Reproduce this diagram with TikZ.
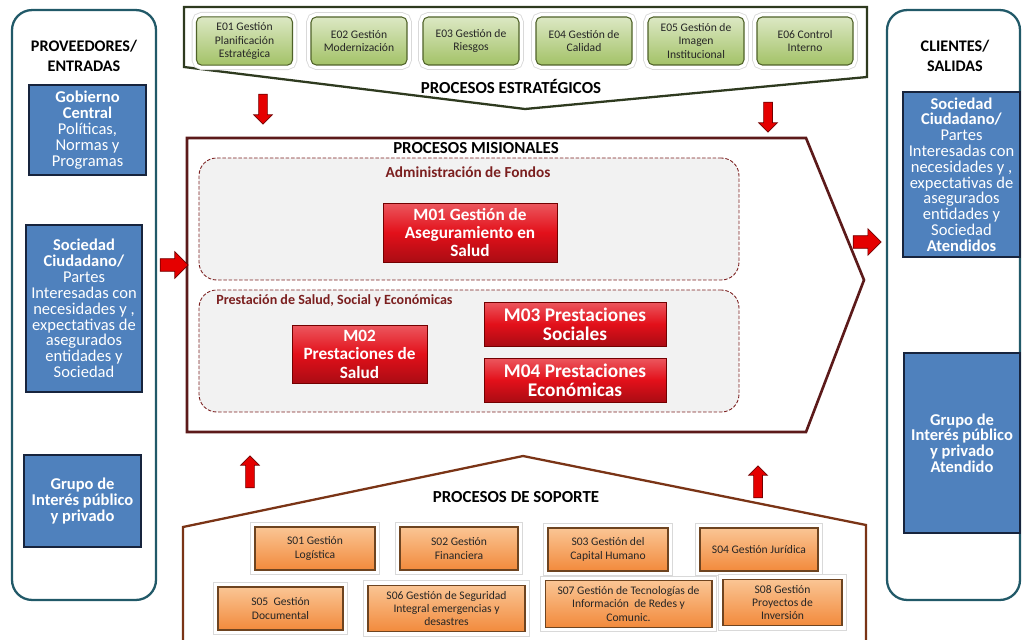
\documentclass[tikz,border=0pt]{standalone}
\usepackage{fontspec}
\setmainfont{Carlito}
\usetikzlibrary{shapes.arrows}
\definecolor{frameteal}{HTML}{215968}
\definecolor{boxblue}{HTML}{4F81BD}
\definecolor{boxnavy}{HTML}{17243D}
\definecolor{leafgreen}{HTML}{A3C267}
\definecolor{leaflight}{HTML}{DCE8C4}
\definecolor{leafdark}{HTML}{4F6228}
\definecolor{olivedark}{HTML}{2E3A1F}
\definecolor{misred}{HTML}{5C1A1A}
\definecolor{fondred}{HTML}{7B1F1F}
\definecolor{soilbrown}{HTML}{7A3416}
\definecolor{boxorange}{HTML}{F28A3C}
\definecolor{orangelight}{HTML}{FAC594}
\definecolor{orangedark}{HTML}{6E4420}
\definecolor{mred}{HTML}{E3101A}

\begin{document}
\begin{tikzpicture}[x=0.02cm, y=-0.02cm,
  column/.style={draw=frameteal, line width=1.3pt, rounded corners=0.4cm, inner sep=0pt},
  party/.style={draw=boxnavy, line width=1.2pt, fill=boxblue, text=white, align=center, inner sep=1pt,
    font=\fontsize{9.4}{9}\selectfont},
  sidehead/.style={align=center, font=\bfseries\fontsize{9.2}{11}\selectfont},
  prochead/.style={font=\bfseries\fontsize{9.6}{11}\selectfont},
  halo/.style={preaction={draw=black!15, line width=5.5pt}, preaction={draw=white, line width=4.5pt}},
  strat/.style={halo, draw=leafdark, line width=0.6pt, rounded corners=3pt, top color=leaflight, bottom color=leafgreen,
    minimum width=1.92cm, minimum height=0.96cm, align=center, text=black!85, font=\fontsize{6.6}{7.6}\selectfont},
  supp/.style={halo, draw=orangedark, line width=0.6pt, top color=orangelight, bottom color=boxorange,
    minimum height=0.86cm, align=center, text=black!85, font=\fontsize{6.6}{7.6}\selectfont},
  mision/.style={draw=red!45!black, line width=0.5pt, top color=mred!70!white, bottom color=mred!75!black, middle color=mred,
    align=center, text=white, inner sep=1pt},
  group/.style={draw=fondred, dash pattern=on 2pt off 1pt, line width=0.5pt, rounded corners=0.35cm, fill=black!5,
    minimum width=10.8cm, minimum height=2.44cm},
  blockarrow/.style={single arrow, draw=red!45!black, line width=0.4pt, fill=red!90!black, inner sep=2.3pt,
    single arrow head extend=0.1cm, minimum height=0.6cm},
  sidearrow/.style={blockarrow, inner sep=3.4pt, single arrow head extend=0.14cm, minimum height=0.56cm}]
\path[use as bounding box] (0,0) rectangle (1026,639);

\node[column, minimum width=2.88cm, minimum height=11.8cm] (prov) at (84,305) {};
\node[column, minimum width=2.66cm, minimum height=11.8cm] (clie) at (953.5,305) {};
\node[sidehead] (provhead) at (84,56) {PROVEEDORES/\\ENTRADAS};
\node[sidehead] (cliehead) at (955,56) {CLIENTES/\\SALIDAS};

\node[party, minimum width=2.34cm, minimum height=1.8cm] (gob) at (87.5,130)
  {\textbf{Gobierno}\\\textbf{Central}\\Políticas,\\Normas y\\Programas};
\node[party, minimum width=2.32cm, minimum height=3.34cm] (soc) at (84,308.5)
  {\textbf{Sociedad}\\\textbf{Ciudadano/}\\Partes\\Interesadas con\\necesidades y ,\\expectativas de\\asegurados\\entidades y\\Sociedad};
\node[party, minimum width=2.34cm, minimum height=1.84cm] (grupo) at (82.5,501)
  {\textbf{Grupo de}\\\textbf{Interés público}\\\textbf{y privado}};
\node[party, minimum width=2.34cm, minimum height=3.3cm] (socat) at (961.5,174.5)
  {\textbf{Sociedad}\\\textbf{Ciudadano/}\\Partes\\Interesadas con\\necesidades y ,\\expectativas de\\asegurados\\entidades y\\Sociedad\\\textbf{Atendidos}};
\node[party, minimum width=2.32cm, minimum height=3.6cm] (grupoat) at (962,443)
  {\textbf{Grupo de}\\\textbf{Interés público}\\\textbf{y privado}\\\textbf{Atendido}};

\draw[olivedark, line width=1.3pt] (184,7) -- (867,7) -- (867,77) -- (525,109) -- (184,67) -- cycle;
\node[strat] (e01) at (244.5,41) {E01 Gestión\\Planificación\\Estratégica};
\node[strat] (e02) at (359,41) {E02 Gestión\\Modernización};
\node[strat] (e03) at (471,41) {E03 Gestión de\\Riesgos};
\node[strat] (e04) at (584,41) {E04 Gestión de\\Calidad};
\node[strat] (e05) at (696,41) {E05 Gestión de\\Imagen\\Institucional};
\node[strat] (e06) at (805,41) {E06 Control\\Interno};
\node[prochead] (esthead) at (511,86) {PROCESOS ESTRATÉGICOS};

\draw[misred, line width=1.5pt] (187,138) -- (806,138) -- (864,280) -- (806,432) -- (187,432) -- cycle;
\node[prochead] (mishead) at (476,148) {PROCESOS MISIONALES};
\node[group] (fondos) at (469,219) {};
\node[group] (prest) at (469,351) {};
\node[text=fondred, font=\bfseries\fontsize{8.7}{10}\selectfont] (fondhead) at (468,172) {Administración de Fondos};
\node[text=fondred, anchor=west, inner sep=0pt, font=\bfseries\fontsize{8}{10}\selectfont] (presthead) at (216,301)
  {Prestación de Salud, Social y Económicas};
\node[mision, minimum width=3.48cm, minimum height=1.18cm, font=\bfseries\fontsize{9.8}{10.5}\selectfont] (m01) at (470,232.5)
  {M01 Gestión de\\Aseguramiento en\\Salud};
\node[mision, minimum width=2.7cm, minimum height=1.16cm, font=\bfseries\fontsize{9.8}{10.5}\selectfont] (m02) at (359.5,354)
  {M02\\Prestaciones de\\Salud};
\node[mision, minimum width=3.64cm, minimum height=0.88cm, font=\bfseries\fontsize{11}{11}\selectfont] (m03) at (575,324)
  {M03 Prestaciones\\Sociales};
\node[mision, minimum width=3.64cm, minimum height=0.88cm, font=\bfseries\fontsize{11}{11}\selectfont] (m04) at (575,380)
  {M04 Prestaciones\\Económicas};

\draw[soilbrown, line width=1.3pt] (183,650) -- (183,527) -- (523,456) -- (866,525) -- (866,650);
\node[prochead] (sophead) at (516,497) {PROCESOS DE SOPORTE};
\node[supp, minimum width=2.4cm] (s01) at (315,548.5) {S01 Gestión\\Logística};
\node[supp, minimum width=2.36cm] (s02) at (459,548.5) {S02 Gestión\\Financiera};
\node[supp, minimum width=2.4cm] (s03) at (608,549.5) {S03 Gestión del\\Capital Humano};
\node[supp, minimum width=2.36cm] (s04) at (759,549.5) {S04 Gestión Jurídica};
\node[supp, minimum width=2.5cm] (s05) at (280.5,608.5) {S05~~Gestión\\Documental};
\node[supp, minimum width=3.14cm] (s06) at (446.5,608.5) {S06 Gestión de Seguridad\\Integral emergencias y\\desastres};
\node[supp, minimum width=3.34cm, minimum height=0.84cm] (s07) at (628.5,604)
  {S07 Gestión de Tecnologías de\\Información~~de Redes y\\Comunic.};
\node[supp, minimum width=2.38cm, minimum height=0.9cm] (s08) at (782.5,602.5) {S08 Gestión\\Proyectos de\\Inversión};

\node[blockarrow, shape border rotate=270] (dnA) at (263,107) {};
\node[blockarrow, shape border rotate=270] (dnB) at (768,115) {};
\node[blockarrow, shape border rotate=90, minimum height=0.64cm] (upA) at (250,474) {};
\node[blockarrow, shape border rotate=90, minimum height=0.64cm] (upB) at (758,484) {};
\node[sidearrow] (rtA) at (171,265) {};
\node[sidearrow] (rtB) at (864,242) {};
\end{tikzpicture}
\end{document}
